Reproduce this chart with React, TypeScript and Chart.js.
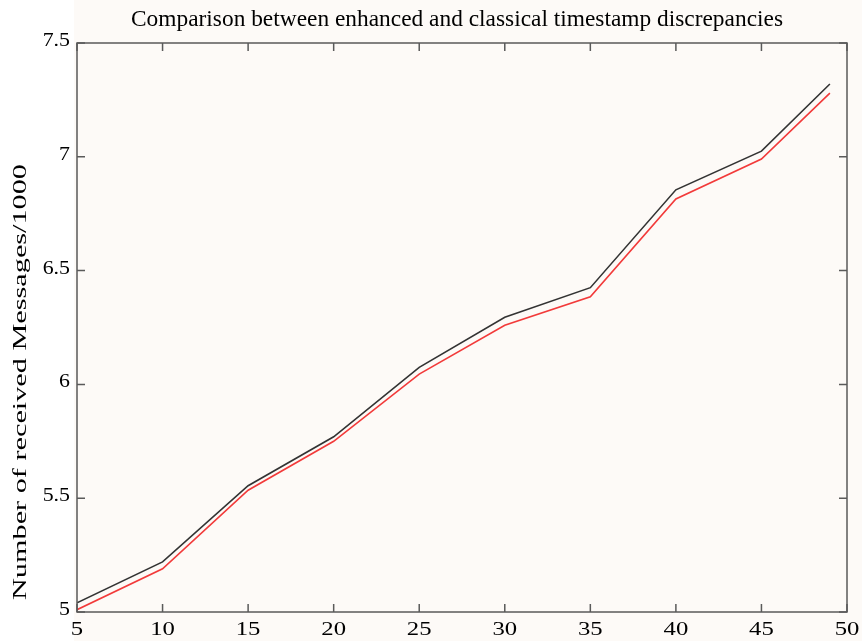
import React, { useEffect, useRef } from "react";
import { Chart, registerables } from "chart.js";

Chart.register(...registerables);

const xValues = [5, 10, 15, 20, 25, 30, 35, 40, 45, 49];
const enhancedValues = [5.04, 5.22, 5.555, 5.77, 6.075, 6.295, 6.425, 6.855, 7.025, 7.32];
const classicalValues = [5.01, 5.19, 5.535, 5.75, 6.045, 6.26, 6.385, 6.815, 6.99, 7.28];
const xTicks = [5, 10, 15, 20, 25, 30, 35, 40, 45, 50];
const yTicks = [5, 5.5, 6, 6.5, 7, 7.5];
const titleText = "Comparison between enhanced and classical timestamp discrepancies";
const yLabelText = "Number of received Messages/1000";

const FONT = '"Liberation Serif", "Times New Roman", serif';

function drawStretched(
  ctx: CanvasRenderingContext2D,
  text: string,
  x: number,
  y: number,
  size: number,
  opts: { sx?: number; sy?: number; width?: number; align?: "left" | "center" | "right"; rotate?: number }
) {
  ctx.save();
  ctx.font = `${size}px ${FONT}`;
  ctx.textBaseline = "middle";
  ctx.textAlign = "left";
  const natural = ctx.measureText(text).width;
  const sx = opts.width ? opts.width / natural : opts.sx ?? 1;
  const sy = opts.sy ?? 1;
  const w = natural * sx;
  ctx.translate(x, y);
  if (opts.rotate) ctx.rotate(opts.rotate);
  let startX = 0;
  const align = opts.align ?? "center";
  if (align === "center") startX = -w / 2;
  else if (align === "right") startX = -w;
  ctx.translate(startX, 0);
  ctx.scale(sx, sy);
  ctx.fillText(text, 0, 0);
  ctx.restore();
}

const decorPlugin = {
  id: "decor",
  beforeDraw(chart: any) {
    const { ctx, width, height } = chart;
    ctx.save();
    ctx.fillStyle = "#ffffff";
    ctx.fillRect(0, 0, width, height);
    ctx.fillStyle = "#fdfaf7";
    ctx.fillRect(74, 0, width - 74, height);
    ctx.restore();
  },
  afterDraw(chart: any) {
    const { ctx, chartArea: a, scales } = chart;
    const xs = scales.x;
    const ys = scales.y;
    ctx.save();
    ctx.strokeStyle = "#5a5a5a";
    ctx.lineWidth = 1.5;
    ctx.strokeRect(a.left, a.top, a.right - a.left, a.bottom - a.top);
    const tl = 8;
    ctx.beginPath();
    xTicks.forEach((v) => {
      const px = xs.getPixelForValue(v);
      ctx.moveTo(px, a.bottom);
      ctx.lineTo(px, a.bottom - tl);
      ctx.moveTo(px, a.top);
      ctx.lineTo(px, a.top + tl);
    });
    yTicks.forEach((v) => {
      const py = ys.getPixelForValue(v);
      ctx.moveTo(a.left, py);
      ctx.lineTo(a.left + tl, py);
      ctx.moveTo(a.right, py);
      ctx.lineTo(a.right - tl, py);
    });
    ctx.stroke();

    ctx.fillStyle = "#000000";
    xTicks.forEach((v) => {
      const px = xs.getPixelForValue(v);
      drawStretched(ctx, String(v), px, a.bottom + 18, 19, { sx: 1.3, align: "center" });
    });
    yTicks.forEach((v) => {
      const py = ys.getPixelForValue(v);
      drawStretched(ctx, String(v), a.left - 7, py - 2, 19, { sx: 1.15, align: "right" });
    });
    drawStretched(ctx, titleText, 457, 20, 21, { width: 652, sy: 1.1, align: "center" });
    drawStretched(ctx, yLabelText, 21, 382, 19, { width: 436, align: "center", rotate: -Math.PI / 2 });
    ctx.restore();
  },
};

export default function App() {
  const ref = useRef<HTMLCanvasElement | null>(null);
  useEffect(() => {
    document.body.style.margin = "0";
    const canvas = ref.current;
    if (!canvas) return;
    const chart = new Chart(canvas, {
      type: "line",
      data: {
        datasets: [
          {
            label: "enhanced",
            data: xValues.map((x, i) => ({ x, y: enhancedValues[i] })),
            borderColor: "#333333",
            borderWidth: 1.6,
            pointRadius: 0,
            tension: 0,
          },
          {
            label: "classical",
            data: xValues.map((x, i) => ({ x, y: classicalValues[i] })),
            borderColor: "#f23a3a",
            borderWidth: 1.6,
            pointRadius: 0,
            tension: 0,
          },
        ],
      },
      options: {
        responsive: false,
        animation: false,
        layout: { padding: { top: 43, right: 15, left: 0, bottom: 0 } },
        plugins: {
          legend: { display: false },
          title: { display: false },
          tooltip: { enabled: false },
        },
        scales: {
          x: {
            type: "linear",
            min: 5,
            max: 50,
            ticks: { display: false, stepSize: 5 },
            grid: { display: false },
            border: { display: false },
            afterFit(s: any) {
              s.height = 29;
            },
          },
          y: {
            type: "linear",
            min: 5,
            max: 7.5,
            ticks: { display: false, stepSize: 0.5 },
            grid: { display: false },
            border: { display: false },
            afterFit(s: any) {
              s.width = 77;
            },
          },
        },
      },
      plugins: [decorPlugin],
    });
    return () => chart.destroy();
  }, []);
  return <canvas ref={ref} width={862} height={641} style={{ display: "block" }} />;
}
